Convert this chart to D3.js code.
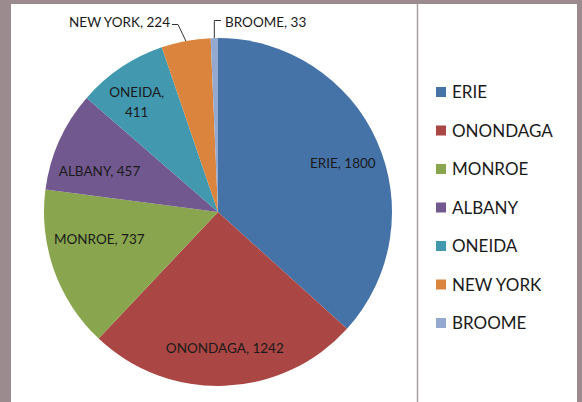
<!DOCTYPE html>
<html><head><meta charset="utf-8">
<script src="https://cdn.jsdelivr.net/npm/d3@7"></script>
<style>html,body{margin:0;padding:0;background:#9b8b8e;}svg{display:block;}</style>
</head><body>
<svg id="chart" width="582" height="402"></svg>
<script>
const categories = ["ERIE","ONONDAGA","MONROE","ALBANY","ONEIDA","NEW YORK","BROOME"];
const values = [1800,1242,737,457,411,224,33];
const colors = ["#4572A7","#AA4643","#89A54E","#71588F","#4198AF","#DB843D","#93A9CF"];

const svg = d3.select("#chart");
const W = 582, H = 402;
svg.append("rect").attr("x",0).attr("y",0).attr("width",W).attr("height",H).attr("fill","#9b8b8e");
svg.append("rect").attr("x",11).attr("y",4).attr("width",566).attr("height",H-4).attr("fill","#ffffff");
svg.append("line").attr("x1",417.5).attr("x2",417.5).attr("y1",4).attr("y2",H).attr("stroke","#a89ea0").attr("stroke-width",1.5);

const cx = 218, cy = 212, r = 174;
const data = categories.map((c,i)=>({name:c, value:values[i]}));
const pie = d3.pie().sort(null).value(d=>d.value);
const arcs = pie(data);
const arc = d3.arc().innerRadius(0).outerRadius(r);
const color = d3.scaleOrdinal().domain(categories).range(colors);

const g = svg.append("g").attr("transform",`translate(${cx},${cy})`);
g.selectAll("path").data(arcs).enter().append("path")
  .attr("d",arc).attr("fill",d=>color(d.data.name));

const font = "Lato, 'Open Sans', sans-serif";
// inside label placement: [angle offset from slice middle (deg), radius fraction]
const labelPlace = {ERIE:[2.6,0.77], ONONDAGA:[-0.6,0.78], MONROE:[6.7,0.70], ALBANY:[-5.2,0.72], ONEIDA:[-3.4,0.77]};
const lab = svg.append("g").attr("font-family",font).attr("font-size",13.5).attr("fill","#1a1a1a").attr("text-anchor","middle");
arcs.forEach(d=>{
  const n = d.data.name;
  if (!(n in labelPlace)) return;
  const a = (d.startAngle+d.endAngle)/2 + labelPlace[n][0]*Math.PI/180;
  const rr = r*labelPlace[n][1];
  const x = cx + rr*Math.sin(a), y = cy - rr*Math.cos(a);
  if (n==="ONEIDA") {
    lab.append("text").attr("x",x).attr("y",y-8).text(n+",");
    lab.append("text").attr("x",x).attr("y",y+12).text(d.data.value);
  } else {
    lab.append("text").attr("x",x).attr("y",y+5).text(n+", "+d.data.value);
  }
});

// outside labels with leader lines
const ny = arcs[5], br = arcs[6];
function edge(d){const a=(d.startAngle+d.endAngle)/2;return [cx+r*Math.sin(a), cy-r*Math.cos(a)];}
const nyE = edge(ny), brE = edge(br);
svg.append("text").attr("x",170).attr("y",27).attr("text-anchor","end").attr("font-family",font).attr("font-size",13.5).attr("fill","#1a1a1a").text("NEW YORK, "+ny.data.value);
svg.append("path").attr("d",`M172,24.5 H178 L${nyE[0]},${nyE[1]}`).attr("fill","none").attr("stroke","#333").attr("stroke-width",1);
svg.append("text").attr("x",225).attr("y",27).attr("font-family",font).attr("font-size",13.5).attr("fill","#1a1a1a").text("BROOME, "+br.data.value);
svg.append("path").attr("d",`M${brE[0]},${brE[1]} V20.5 H221`).attr("fill","none").attr("stroke","#333").attr("stroke-width",1);

// legend
const leg = svg.append("g");
const ly = d3.scalePoint().domain(categories).range([92,323]);
categories.forEach(c=>{
  leg.append("rect").attr("x",436).attr("y",ly(c)-5).attr("width",10).attr("height",10).attr("fill",color(c));
  leg.append("text").attr("x",452).attr("y",ly(c)+6).attr("font-family",font).attr("font-size",17).attr("fill","#1a1a1a").text(c);
});
</script>
</body></html>
